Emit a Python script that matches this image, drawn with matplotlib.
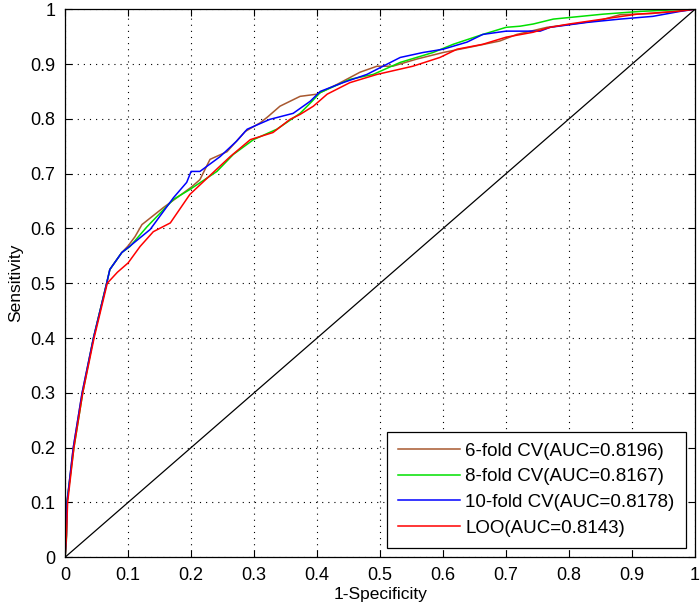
import matplotlib
matplotlib.use("Agg")
import matplotlib.pyplot as plt
from matplotlib.ticker import MultipleLocator, FuncFormatter

plt.rcParams["font.family"] = ["Liberation Sans", "DejaVu Sans"]

# ROC points (1-specificity, sensitivity)
fpr_6fold = [0, 0.002, 0.003, 0.013, 0.027, 0.045, 0.066, 0.071, 0.09, 0.1, 0.111, 0.122,
             0.156, 0.2, 0.214, 0.23, 0.257, 0.286, 0.31, 0.322, 0.341, 0.373, 0.4, 0.432,
             0.468, 0.495, 0.52, 0.558, 0.6, 0.648, 0.69, 0.717, 0.765, 0.8, 0.85, 0.881,
             0.93, 0.975, 1.0]
tpr_6fold = [0, 0.037, 0.1, 0.2, 0.3, 0.4, 0.5, 0.525, 0.556, 0.568, 0.585, 0.607,
             0.638, 0.675, 0.689, 0.726, 0.74, 0.777, 0.793, 0.804, 0.823, 0.841, 0.845, 0.863,
             0.885, 0.896, 0.896, 0.909, 0.921, 0.932, 0.942, 0.954, 0.967, 0.972, 0.98, 0.99,
             0.992, 0.997, 1.0]

fpr_8fold = [0, 0.002, 0.003, 0.014, 0.028, 0.045, 0.066, 0.071, 0.09, 0.103, 0.13,
             0.172, 0.198, 0.241, 0.267, 0.299, 0.336, 0.373, 0.392, 0.405, 0.452, 0.489,
             0.532, 0.584, 0.616, 0.663, 0.7, 0.722, 0.743, 0.775, 0.854, 0.913, 0.987, 1.0]
tpr_8fold = [0, 0.03, 0.1, 0.2, 0.3, 0.4, 0.5, 0.525, 0.556, 0.567, 0.603,
             0.653, 0.671, 0.704, 0.735, 0.762, 0.781, 0.81, 0.832, 0.848, 0.872, 0.881,
             0.903, 0.921, 0.936, 0.954, 0.967, 0.969, 0.973, 0.982, 0.991, 0.996, 1.0, 1.0]

fpr_10fold = [0, 0.002, 0.003, 0.013, 0.027, 0.045, 0.066, 0.071, 0.09, 0.1, 0.135,
              0.172, 0.193, 0.2, 0.214, 0.246, 0.272, 0.289, 0.325, 0.362, 0.389, 0.405,
              0.441, 0.479, 0.532, 0.568, 0.6, 0.638, 0.663, 0.7, 0.754, 0.77, 0.829, 0.881,
              0.933, 0.976, 1.0]
tpr_10fold = [0, 0.04, 0.1, 0.2, 0.3, 0.4, 0.5, 0.525, 0.556, 0.565, 0.598,
              0.656, 0.684, 0.704, 0.704, 0.731, 0.759, 0.781, 0.799, 0.81, 0.832, 0.85,
              0.866, 0.881, 0.912, 0.921, 0.927, 0.94, 0.954, 0.96, 0.96, 0.967, 0.976, 0.982,
              0.987, 0.996, 1.0]

fpr_loo = [0, 0.002, 0.004, 0.014, 0.028, 0.046, 0.067, 0.083, 0.1, 0.119, 0.14, 0.167,
           0.198, 0.235, 0.262, 0.294, 0.33, 0.357, 0.373, 0.394, 0.416, 0.452, 0.495,
           0.552, 0.595, 0.622, 0.663, 0.7, 0.743, 0.77, 0.8, 0.854, 0.908, 0.971, 1.0]
tpr_loo = [0, 0.035, 0.1, 0.2, 0.3, 0.4, 0.5, 0.52, 0.537, 0.567, 0.594, 0.61,
           0.662, 0.702, 0.731, 0.762, 0.775, 0.799, 0.808, 0.823, 0.845, 0.866, 0.881,
           0.896, 0.912, 0.927, 0.936, 0.949, 0.958, 0.967, 0.973, 0.982, 0.991, 0.996, 1.0]

labels = ["6-fold CV(AUC=0.8196)", "8-fold CV(AUC=0.8167)",
          "10-fold CV(AUC=0.8178)", "LOO(AUC=0.8143)"]
colors = ["#A8582F", "#00E000", "#0000FF", "#FF0000"]

fig = plt.figure(figsize=(7, 6.15), dpi=100)
ax = fig.add_axes([0.093, 0.094, 0.9, 0.891])

curves = [(fpr_6fold, tpr_6fold), (fpr_8fold, tpr_8fold),
          (fpr_10fold, tpr_10fold), (fpr_loo, tpr_loo)]
for (fx, ty), lab, c in zip(curves, labels, colors):
    ax.plot(fx, ty, color=c, lw=1.1, label=lab)

ax.plot([0, 1], [0, 1], color="black", lw=0.9)

ax.set_xlim(0, 1)
ax.set_ylim(0, 1)
ax.xaxis.set_major_locator(MultipleLocator(0.1))
ax.yaxis.set_major_locator(MultipleLocator(0.1))
fmt = FuncFormatter(lambda v, p: "%g" % round(v, 2))
ax.xaxis.set_major_formatter(fmt)
ax.yaxis.set_major_formatter(fmt)
ax.tick_params(direction="in", length=5, width=0.8, top=True, right=True,
               labelsize=13, pad=7, colors="black")
ax.grid(True, color="black", ls=(0, (1, 4.5)), lw=0.8)
for s in ax.spines.values():
    s.set_linewidth(0.9)

ax.set_xlabel("1-Specificity", fontsize=12.5, labelpad=2)
ax.set_ylabel("Sensitivity", fontsize=12.5, labelpad=5)

leg = ax.legend(loc="lower right", fontsize=13.5, frameon=True, fancybox=False,
                edgecolor="black", framealpha=1, handlelength=3.3, handletextpad=0.28,
                labelspacing=0.45, borderpad=0.6, borderaxespad=0.5)
leg.get_frame().set_linewidth(0.9)

fig.savefig("out.png", dpi=100)
